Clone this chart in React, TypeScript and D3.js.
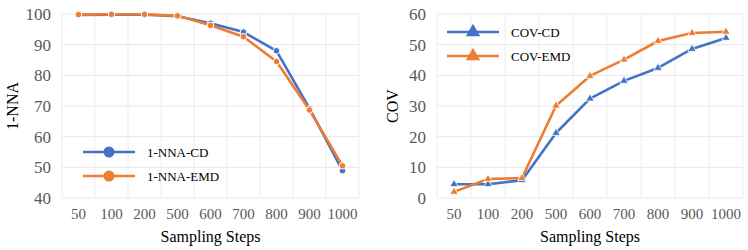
import React from 'react';
import * as d3 from 'd3';

const steps = ['50', '100', '200', '500', '600', '700', '800', '900', '1000'];
const nnaCD = [99.7, 99.8, 99.8, 99.3, 97.0, 94.1, 88.0, 69.2, 48.9];
const nnaEMD = [99.8, 99.9, 99.9, 99.4, 96.3, 92.6, 84.5, 68.7, 50.5];
const covCD = [4.5, 4.5, 5.8, 21.2, 32.4, 38.2, 42.4, 48.6, 52.2];
const covEMD = [2.0, 6.2, 6.5, 30.1, 39.8, 45.1, 51.2, 53.8, 54.2];
const nnaTicks = [40, 50, 60, 70, 80, 90, 100];
const covTicks = [0, 10, 20, 30, 40, 50, 60];

const BLUE = '#4472C4';
const ORANGE = '#ED7D31';
const FONT = 'Liberation Serif, DejaVu Serif, serif';

interface Series { name: string; values: number[]; color: string; }

interface PanelProps {
  x0: number;
  x1: number;
  ticks: number[];
  yLabel: string;
  yLabelX: number;
  series: Series[];
  marker: 'circle' | 'triangle';
  legendX: number;
  legendY: number;
}

const Panel: React.FC<PanelProps> = ({ x0, x1, ticks, yLabel, yLabelX, series, marker, legendX, legendY }) => {
  const top = 14, bottom = 198;
  const x = d3.scaleBand().domain(steps).range([x0, x1]);
  const y = d3.scaleLinear().domain([ticks[0], ticks[ticks.length - 1]]).range([bottom, top]);
  const line = d3.line<number>()
    .x((_, i) => x(steps[i])! + x.bandwidth() / 2)
    .y(d => y(d));
  const tri = d3.symbol().type(d3.symbolTriangle);

  const drawMarker = (cx: number, cy: number, color: string, big: boolean, key: string) =>
    marker === 'circle'
      ? <circle key={key} cx={cx} cy={cy} r={big ? 5.5 : 3.3} fill={color} stroke="#fff" strokeWidth={big ? 0 : 1} />
      : <path key={key} transform={`translate(${cx},${cy})`} d={tri.size(big ? 90 : 30)()!} fill={color} stroke="#fff" strokeWidth={big ? 0 : 0.8} />;

  return (
    <g style={{ fontFamily: FONT }}>
      {ticks.map(t => (
        <line key={'h' + t} x1={x0} x2={x1} y1={y(t)} y2={y(t)} stroke="#e6e6e6" strokeWidth={1} />
      ))}
      {[...steps.map(s => x(s)!), x1].map((v, i) => (
        <line key={'v' + i} x1={v} x2={v} y1={top} y2={bottom} stroke="#ececec" strokeWidth={1} />
      ))}
      {ticks.map(t => (
        <text key={'t' + t} x={x0 - 11} y={y(t)} dy="0.35em" textAnchor="end" fontSize={17} fill="#595959">{t}</text>
      ))}
      {steps.map(s => (
        <text key={'s' + s} x={x(s)! + x.bandwidth() / 2} y={214} dy="0.35em" textAnchor="middle" fontSize={15} fill="#595959">{s}</text>
      ))}
      <text x={(x0 + x1) / 2} y={236} dy="0.35em" textAnchor="middle" fontSize={16} fill="#000">Sampling Steps</text>
      <text transform={`translate(${yLabelX},${(top + bottom) / 2}) rotate(-90)`} dy="0.35em" textAnchor="middle" fontSize={16} fill="#000">{yLabel}</text>
      {series.map(s => (
        <g key={s.name}>
          <path d={line(s.values)!} fill="none" stroke={s.color} strokeWidth={2.6} strokeLinejoin="round" />
          {s.values.map((v, i) => drawMarker(x(steps[i])! + x.bandwidth() / 2, y(v), s.color, false, s.name + i))}
        </g>
      ))}
      {series.map((s, i) => {
        const ly = legendY + i * 24;
        return (
          <g key={'lg' + s.name}>
            <line x1={legendX} x2={legendX + 52} y1={ly} y2={ly} stroke={s.color} strokeWidth={2.6} />
            {drawMarker(legendX + 26, ly, s.color, true, 'lm' + i)}
            <text x={legendX + 64} y={ly} dy="0.35em" fontSize={13} fill="#000">{s.name}</text>
          </g>
        );
      })}
    </g>
  );
};

export default function App() {
  return (
    <div style={{ position: 'absolute', left: 0, top: 0, background: '#fff' }}>
      <svg width={748} height={250} viewBox="0 0 748 250">
        <rect width={748} height={250} fill="#fff" />
        <Panel
          x0={62} x1={359} ticks={nnaTicks} yLabel="1-NNA" yLabelX={12}
          series={[{ name: '1-NNA-CD', values: nnaCD, color: BLUE }, { name: '1-NNA-EMD', values: nnaEMD, color: ORANGE }]}
          marker="circle" legendX={83} legendY={152}
        />
        <Panel
          x0={437} x1={743} ticks={covTicks} yLabel="COV" yLabelX={392}
          series={[{ name: 'COV-CD', values: covCD, color: BLUE }, { name: 'COV-EMD', values: covEMD, color: ORANGE }]}
          marker="triangle" legendX={447} legendY={32}
        />
      </svg>
    </div>
  );
}
